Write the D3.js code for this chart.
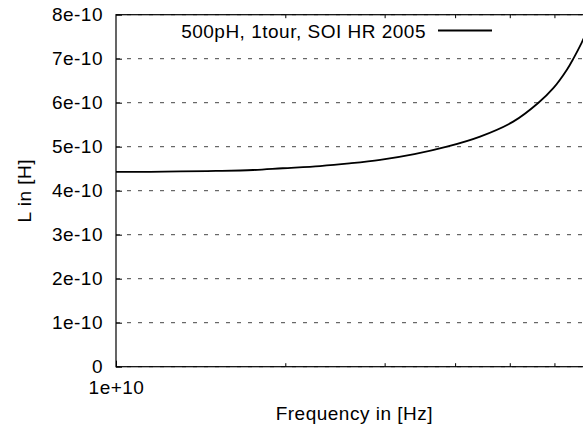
<!DOCTYPE html>
<html>
<head>
<meta charset="utf-8">
<script src="https://cdn.jsdelivr.net/npm/d3@7"></script>
<style>
  html, body { margin: 0; padding: 0; background: #fff; }
  svg { display: block; }
  text { font-family: "Liberation Sans", Arial, Helvetica, sans-serif; fill: #000; letter-spacing: 0.5px; }
</style>
</head>
<body>
<svg id="chart" width="583" height="428"></svg>
<script>
// ---- data ----
const frequency = [1.0e10, 1.15e10, 1.3e10, 1.504e10, 1.75e10, 1.975e10, 2.3e10, 2.593e10, 2.94e10, 3.38e10, 3.86e10, 4.42e10, 5.06e10, 5.61e10, 5.96e10, 6.30e10, 6.48e10, 6.69e10, 7.0e10];
const inductance = [4.43e-10, 4.43e-10, 4.44e-10, 4.45e-10, 4.47e-10, 4.51e-10, 4.56e-10, 4.62e-10, 4.70e-10, 4.83e-10, 5.00e-10, 5.23e-10, 5.57e-10, 6.00e-10, 6.33e-10, 6.75e-10, 7.02e-10, 7.36e-10, 7.91e-10];
const yTickValues = [0, 1e-10, 2e-10, 3e-10, 4e-10, 5e-10, 6e-10, 7e-10, 8e-10];
const yTickLabels = ["0", "1e-10", "2e-10", "3e-10", "4e-10", "5e-10", "6e-10", "7e-10", "8e-10"];
const xMajorTicks = [1e10];
const xMajorLabels = ["1e+10"];
const xMinorTicks = [2e10, 3e10, 4e10, 5e10, 6e10, 7e10];
const seriesName = "500pH, 1tour, SOI HR 2005";
const xTitle = "Frequency in [Hz]";
const yTitle = "L in [H]";

// ---- layout ----
const mLeft = 116, mRight = 592.7, mTop = 14.7, mBottom = 366.7;
const svg = d3.select("#chart");
const x = d3.scaleLog().domain([1e10, 7e10]).range([mLeft, mRight]);
const y = d3.scaleLinear().domain([0, 8e-10]).range([mBottom, mTop]);
const fontSize = 19;
const fontFam = '"Liberation Sans", Arial, sans-serif';

// grid lines (dashed)
svg.append("g").selectAll("line").data(yTickValues).join("line")
  .attr("x1", mLeft).attr("x2", mRight)
  .attr("y1", d => y(d)).attr("y2", d => y(d))
  .attr("stroke", "#444").attr("stroke-width", 1)
  .attr("stroke-dasharray", "4,7");

// border
svg.append("rect").attr("x", mLeft).attr("y", mTop)
  .attr("width", mRight - mLeft).attr("height", mBottom - mTop)
  .attr("fill", "none").attr("stroke", "#000").attr("stroke-width", 1.2);

// y axis labels
const yAxis = d3.axisLeft(y).tickValues(yTickValues)
  .tickFormat((d, i) => yTickLabels[i]).tickSize(-6).tickPadding(13);
const gy = svg.append("g").attr("transform", `translate(${mLeft},0)`).call(yAxis);
gy.select(".domain").remove();
gy.selectAll("text").style("font-size", fontSize + "px").attr("fill", "#000")
  .style("font-family", fontFam).style("letter-spacing", "0.5px");
gy.selectAll("line").attr("stroke", "#000");

// x axis major
const xAxis = d3.axisBottom(x).tickValues(xMajorTicks)
  .tickFormat((d, i) => xMajorLabels[i]).tickSize(-6).tickPadding(13.5);
const gx = svg.append("g").attr("transform", `translate(0,${mBottom})`).call(xAxis);
gx.select(".domain").remove();
gx.selectAll("text").style("font-size", fontSize + "px").attr("fill", "#000")
  .style("font-family", fontFam).style("letter-spacing", "0.5px");
gx.selectAll("line").attr("stroke", "#000");

// x minor ticks (bottom and top, inward)
const minor = svg.append("g");
minor.selectAll("line.b").data(xMinorTicks).join("line").attr("class", "b")
  .attr("x1", d => x(d)).attr("x2", d => x(d))
  .attr("y1", mBottom).attr("y2", mBottom - 3.5)
  .attr("stroke", "#000").attr("stroke-width", 1);
minor.selectAll("line.t").data(xMinorTicks).join("line").attr("class", "t")
  .attr("x1", d => x(d)).attr("x2", d => x(d))
  .attr("y1", mTop).attr("y2", mTop + 3.5)
  .attr("stroke", "#000").attr("stroke-width", 1);

// data curve
const pts = frequency.map((f, i) => [f, inductance[i]]);
const line = d3.line().x(d => x(d[0])).y(d => y(d[1])).curve(d3.curveCatmullRom.alpha(0.5));
svg.append("path").datum(pts).attr("d", line)
  .attr("fill", "none").attr("stroke", "#000").attr("stroke-width", 1.8);

// legend
svg.append("text").attr("x", 426).attr("y", 37.5).attr("text-anchor", "end")
  .style("font-size", fontSize + "px").text(seriesName);
svg.append("line").attr("x1", 438).attr("x2", 492).attr("y1", 30.5).attr("y2", 30.5)
  .attr("stroke", "#000").attr("stroke-width", 1.8);

// axis titles
svg.append("text").attr("x", (mLeft + mRight) / 2).attr("y", 420)
  .attr("text-anchor", "middle").style("font-size", fontSize + "px").text(xTitle);
svg.append("text").attr("transform", `translate(31,${(mTop + mBottom) / 2}) rotate(-90)`)
  .attr("text-anchor", "middle").style("font-size", fontSize + "px").text(yTitle);
</script>
</body>
</html>
